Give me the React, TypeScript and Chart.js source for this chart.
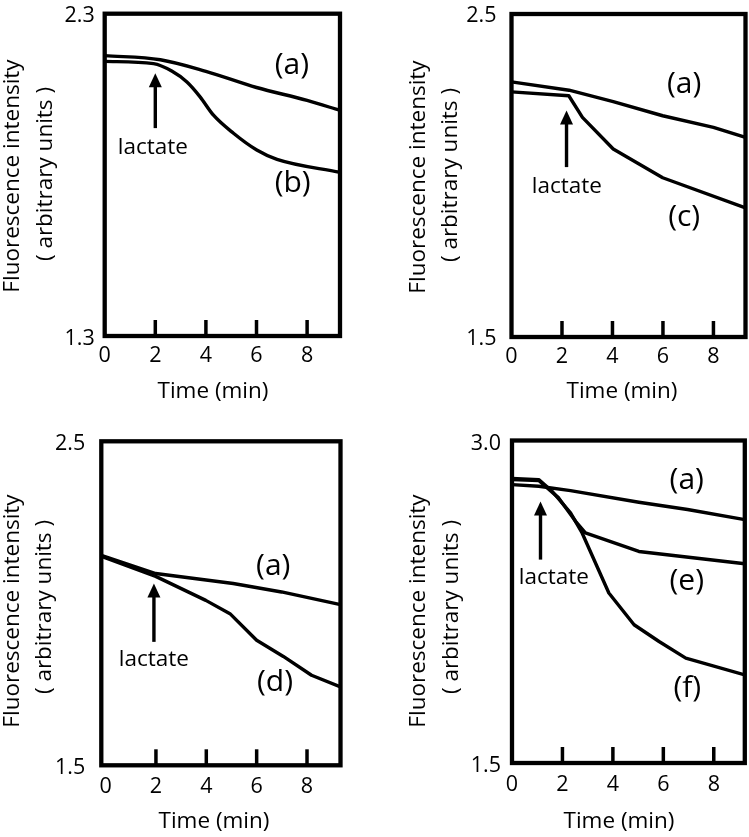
import React, { useEffect, useRef } from 'react';
import { Chart, registerables } from 'chart.js';

Chart.register(...registerables);

const FONT = "'Open Sans', 'DejaVu Sans', sans-serif";

// ---------- shared ----------
const X_TICKS = [0, 2, 4, 6, 8];
const X_TITLE = 'Time (min)';
const Y_TITLE_1 = 'Fluorescence intensity';
const Y_TITLE_2 = '( arbitrary units )';
const LACTATE = 'lactate';

// ---------- panel 1 ----------
const P1_Y_TICKS = [1.3, 2.3];
const P1_A_T = [0, 2.2, 4, 6, 8, 9.3];
const P1_A_V = [2.17, 2.157, 2.121, 2.071, 2.031, 2.0];
const P1_B_T = [0, 1.93, 2.65, 3.25, 3.77, 4.3, 5.09, 6.01, 6.81, 9.3];
const P1_B_V = [2.152, 2.145, 2.122, 2.088, 2.042, 1.985, 1.929, 1.877, 1.848, 1.808];

// ---------- panel 2 ----------
const P2_Y_TICKS = [1.5, 2.5];
const P2_A_T = [0, 2.28, 4.03, 5.99, 8.0, 9.27];
const P2_A_V = [2.29, 2.264, 2.229, 2.185, 2.149, 2.118];
const P2_C_T = [0, 2.27, 2.81, 4.03, 5.99, 9.27];
const P2_C_V = [2.259, 2.247, 2.18, 2.082, 1.993, 1.9];

// ---------- panel 3 ----------
const P3_Y_TICKS = [1.5, 2.5];
const P3_A_T = [-0.17, 1.99, 5.07, 6.99, 9.33];
const P3_A_V = [2.148, 2.092, 2.061, 2.035, 1.996];
const P3_D_T = [-0.17, 1.99, 3.98, 4.94, 6.0, 7.06, 8.18, 9.33];
const P3_D_V = [2.145, 2.083, 2.009, 1.968, 1.886, 1.836, 1.778, 1.742];

// ---------- panel 4 ----------
const P4_Y_TICKS = [1.5, 3.0];
const P4_A_T = [0, 1.06, 2.32, 5.03, 6.96, 9.23];
const P4_A_V = [2.795, 2.787, 2.767, 2.713, 2.679, 2.632];
const P4_E_T = [0, 1.06, 1.85, 2.52, 2.91, 5.03, 9.23];
const P4_E_V = [2.818, 2.814, 2.733, 2.624, 2.57, 2.484, 2.427];
const P4_F_T = [0, 1.06, 1.59, 2.32, 2.78, 3.84, 4.84, 5.83, 6.89, 9.23];
const P4_F_V = [2.823, 2.818, 2.764, 2.663, 2.57, 2.291, 2.143, 2.065, 1.988, 1.91];

const pts = (t: number[], v: number[]) => t.map((x, i) => ({ x, y: v[i] }));

type PanelCfg = {
  box: { left: number; top: number; width: number; height: number };
  area: { left: number; top: number; right: number; bottom: number };
  xRange: [number, number];
  yTicks: number[];
  series: { t: number[]; v: number[] }[];
  smooth: boolean;
  letters: { text: string; t: number; v: number }[];
  lactate: { t: number; v: number };
  arrow: { t: number; tip: number; base: number };
  yLabelPad: number;
  yLabelOffset: number;
  xLabelPad: number;
  titles: { y1x: number; y1c: number; y2x: number; y2c: number; xx: number; xy: number };
};

const PANELS: PanelCfg[] = [
  {
    box: { left: 0, top: 0, width: 375, height: 420 },
    area: { left: 104.7, top: 13.7, right: 340, bottom: 336 },
    xRange: [0, 9.3],
    yTicks: P1_Y_TICKS,
    series: [{ t: P1_A_T, v: P1_A_V }, { t: P1_B_T, v: P1_B_V }],
    smooth: true,
    letters: [
      { text: '(a)', t: 7.4, v: 2.14 },
      { text: '(b)', t: 7.43, v: 1.772 },
    ],
    lactate: { t: 1.9, v: 1.886 },
    arrow: { t: 2.0, tip: 2.115, base: 1.945 },
    yLabelPad: 10,
    yLabelOffset: 2.5,
    xLabelPad: 7,
    titles: { y1x: 13, y1c: 176, y2x: 46, y2c: 174, xx: 213, xy: 392 },
  },
  {
    box: { left: 375, top: 0, width: 374, height: 420 },
    area: { left: 136.5, top: 14, right: 370.5, bottom: 337 },
    xRange: [0, 9.27],
    yTicks: P2_Y_TICKS,
    series: [{ t: P2_A_T, v: P2_A_V }, { t: P2_C_T, v: P2_C_V }],
    smooth: false,
    letters: [
      { text: '(a)', t: 6.84, v: 2.281 },
      { text: '(c)', t: 6.84, v: 1.869 },
    ],
    lactate: { t: 2.19, v: 1.966 },
    arrow: { t: 2.18, tip: 2.201, base: 2.026 },
    yLabelPad: 15,
    yLabelOffset: 2,
    xLabelPad: 7,
    titles: { y1x: 44, y1c: 177, y2x: 76, y2c: 175, xx: 247, xy: 392 },
  },
  {
    box: { left: 0, top: 420, width: 375, height: 417 },
    area: { left: 101.3, top: 21.3, right: 340.5, bottom: 345.3 },
    xRange: [-0.17, 9.33],
    yTicks: P3_Y_TICKS,
    series: [{ t: P3_A_T, v: P3_A_V }, { t: P3_D_T, v: P3_D_V }],
    smooth: false,
    letters: [
      { text: '(a)', t: 6.66, v: 2.114 },
      { text: '(d)', t: 6.73, v: 1.755 },
    ],
    lactate: { t: 1.92, v: 1.826 },
    arrow: { t: 1.92, tip: 2.061, base: 1.881 },
    yLabelPad: 16,
    yLabelOffset: 2.5,
    xLabelPad: 8.5,
    titles: { y1x: 13, y1c: 191, y2x: 45, y2c: 187, xx: 214, xy: 402 },
  },
  {
    box: { left: 375, top: 420, width: 374, height: 417 },
    area: { left: 137, top: 20.5, right: 369.8, bottom: 343 },
    xRange: [0, 9.23],
    yTicks: P4_Y_TICKS,
    series: [
      { t: P4_A_T, v: P4_A_V },
      { t: P4_E_T, v: P4_E_V },
      { t: P4_F_T, v: P4_F_V },
    ],
    smooth: false,
    letters: [
      { text: '(a)', t: 6.93, v: 2.814 },
      { text: '(e)', t: 6.93, v: 2.345 },
      { text: '(f)', t: 6.95, v: 1.849 },
    ],
    lactate: { t: 1.66, v: 2.362 },
    arrow: { t: 1.13, tip: 2.716, base: 2.446 },
    yLabelPad: 11,
    yLabelOffset: 3,
    xLabelPad: 8.5,
    titles: { y1x: 44, y1c: 191, y2x: 77, y2c: 187, xx: 244, xy: 402 },
  },
];

const TITLE_SIZE = 22.5;
const TICK_SIZE = 21.5;
const LETTER_SIZE = 30;
const LACTATE_SIZE = 22.5;

const decorPlugin = {
  id: 'decor',
  afterDatasetsDraw(chart: any, _args: any, opts: any) {
    const cfg: PanelCfg = opts.cfg;
    if (!cfg) return;
    const ctx: CanvasRenderingContext2D = chart.ctx;
    const xs = chart.scales.x;
    const ys = chart.scales.y;
    const a = chart.chartArea;
    ctx.save();
    ctx.strokeStyle = '#000';
    ctx.fillStyle = '#000';

    // inward tick marks
    ctx.lineWidth = 3.5;
    for (const t of X_TICKS) {
      if (t === 0) continue;
      const px = xs.getPixelForValue(t);
      ctx.beginPath();
      ctx.moveTo(px, a.bottom);
      ctx.lineTo(px, a.bottom - 16);
      ctx.stroke();
    }

    // frame
    ctx.lineWidth = 4.3;
    ctx.strokeRect(a.left, a.top, a.right - a.left, a.bottom - a.top);

    // arrow
    const ax = xs.getPixelForValue(cfg.arrow.t);
    const aTip = ys.getPixelForValue(cfg.arrow.tip);
    const aBase = ys.getPixelForValue(cfg.arrow.base);
    ctx.lineWidth = 3.4;
    ctx.beginPath();
    ctx.moveTo(ax, aBase);
    ctx.lineTo(ax, aTip + 10);
    ctx.stroke();
    ctx.beginPath();
    ctx.moveTo(ax, aTip);
    ctx.lineTo(ax - 6.5, aTip + 14);
    ctx.lineTo(ax + 6.5, aTip + 14);
    ctx.closePath();
    ctx.fill();

    // letters
    ctx.textAlign = 'center';
    ctx.textBaseline = 'middle';
    ctx.font = `${LETTER_SIZE}px ${FONT}`;
    for (const l of cfg.letters) {
      ctx.fillText(l.text, xs.getPixelForValue(l.t), ys.getPixelForValue(l.v));
    }
    ctx.font = `${LACTATE_SIZE}px ${FONT}`;
    ctx.fillText(LACTATE, xs.getPixelForValue(cfg.lactate.t), ys.getPixelForValue(cfg.lactate.v));

    // axis titles
    const T = cfg.titles;
    ctx.font = `${TITLE_SIZE}px ${FONT}`;
    ctx.fillText(X_TITLE, T.xx, T.xy);
    ctx.save();
    ctx.translate(T.y1x, T.y1c);
    ctx.rotate(-Math.PI / 2);
    ctx.fillText(Y_TITLE_1, 0, 0);
    ctx.restore();
    ctx.save();
    ctx.translate(T.y2x, T.y2c);
    ctx.rotate(-Math.PI / 2);
    ctx.fillText(Y_TITLE_2, 0, 0);
    ctx.restore();

    ctx.restore();
  },
};

function buildConfig(cfg: PanelCfg): any {
  const { width, height } = cfg.box;
  const area = cfg.area;
  return {
    type: 'line',
    data: {
      datasets: cfg.series.map((s) => ({
        data: pts(s.t, s.v),
        borderColor: '#000',
        borderWidth: 3.4,
        pointRadius: 0,
        fill: false,
        tension: cfg.smooth ? 0.4 : 0,
        cubicInterpolationMode: cfg.smooth ? 'monotone' : 'default',
        borderJoinStyle: 'round',
      })),
    },
    options: {
      responsive: false,
      animation: false,
      devicePixelRatio: 1,
      events: [],
      layout: {
        padding: { left: 0, top: area.top, right: width - area.right, bottom: 0 },
      },
      plugins: {
        legend: { display: false },
        tooltip: { enabled: false },
        decor: { cfg },
      },
      scales: {
        x: {
          type: 'linear',
          min: cfg.xRange[0],
          max: cfg.xRange[1],
          grid: { display: false, drawTicks: false },
          border: { display: false },
          afterBuildTicks: (s: any) => {
            s.ticks = X_TICKS.map((v) => ({ value: v }));
          },
          afterFit: (s: any) => {
            s.height = height - area.bottom;
            s.paddingLeft = 0;
            s.paddingRight = 0;
          },
          ticks: {
            autoSkip: false,
            maxRotation: 0,
            padding: cfg.xLabelPad,
            color: '#000',
            font: { family: FONT, size: TICK_SIZE },
            callback: (v: any) => String(v),
          },
        },
        y: {
          type: 'linear',
          min: cfg.yTicks[0],
          max: cfg.yTicks[cfg.yTicks.length - 1],
          grid: { display: false, drawTicks: false },
          border: { display: false },
          afterBuildTicks: (s: any) => {
            s.ticks = cfg.yTicks.map((v) => ({ value: v }));
          },
          afterFit: (s: any) => {
            s.width = area.left;
            s.paddingTop = 0;
            s.paddingBottom = 0;
          },
          ticks: {
            padding: cfg.yLabelPad,
            labelOffset: cfg.yLabelOffset,
            color: '#000',
            font: { family: FONT, size: TICK_SIZE },
            callback: (v: any) => Number(v).toFixed(1),
          },
        },
      },
    },
    plugins: [decorPlugin],
  };
}

function Panel({ cfg }: { cfg: PanelCfg }) {
  const ref = useRef<HTMLCanvasElement>(null);
  useEffect(() => {
    const chart = new Chart(ref.current as HTMLCanvasElement, buildConfig(cfg));
    return () => chart.destroy();
  }, [cfg]);
  const { left, top, width, height } = cfg.box;
  return (
    <canvas
      ref={ref}
      width={width}
      height={height}
      style={{ position: 'absolute', left, top, width, height }}
    />
  );
}

export default function App() {
  return (
    <div
      style={{
        position: 'absolute',
        left: 0,
        top: 0,
        width: 749,
        height: 837,
        background: '#fff',
        overflow: 'hidden',
      }}
    >
      {PANELS.map((p, i) => (
        <Panel key={i} cfg={p} />
      ))}
    </div>
  );
}
